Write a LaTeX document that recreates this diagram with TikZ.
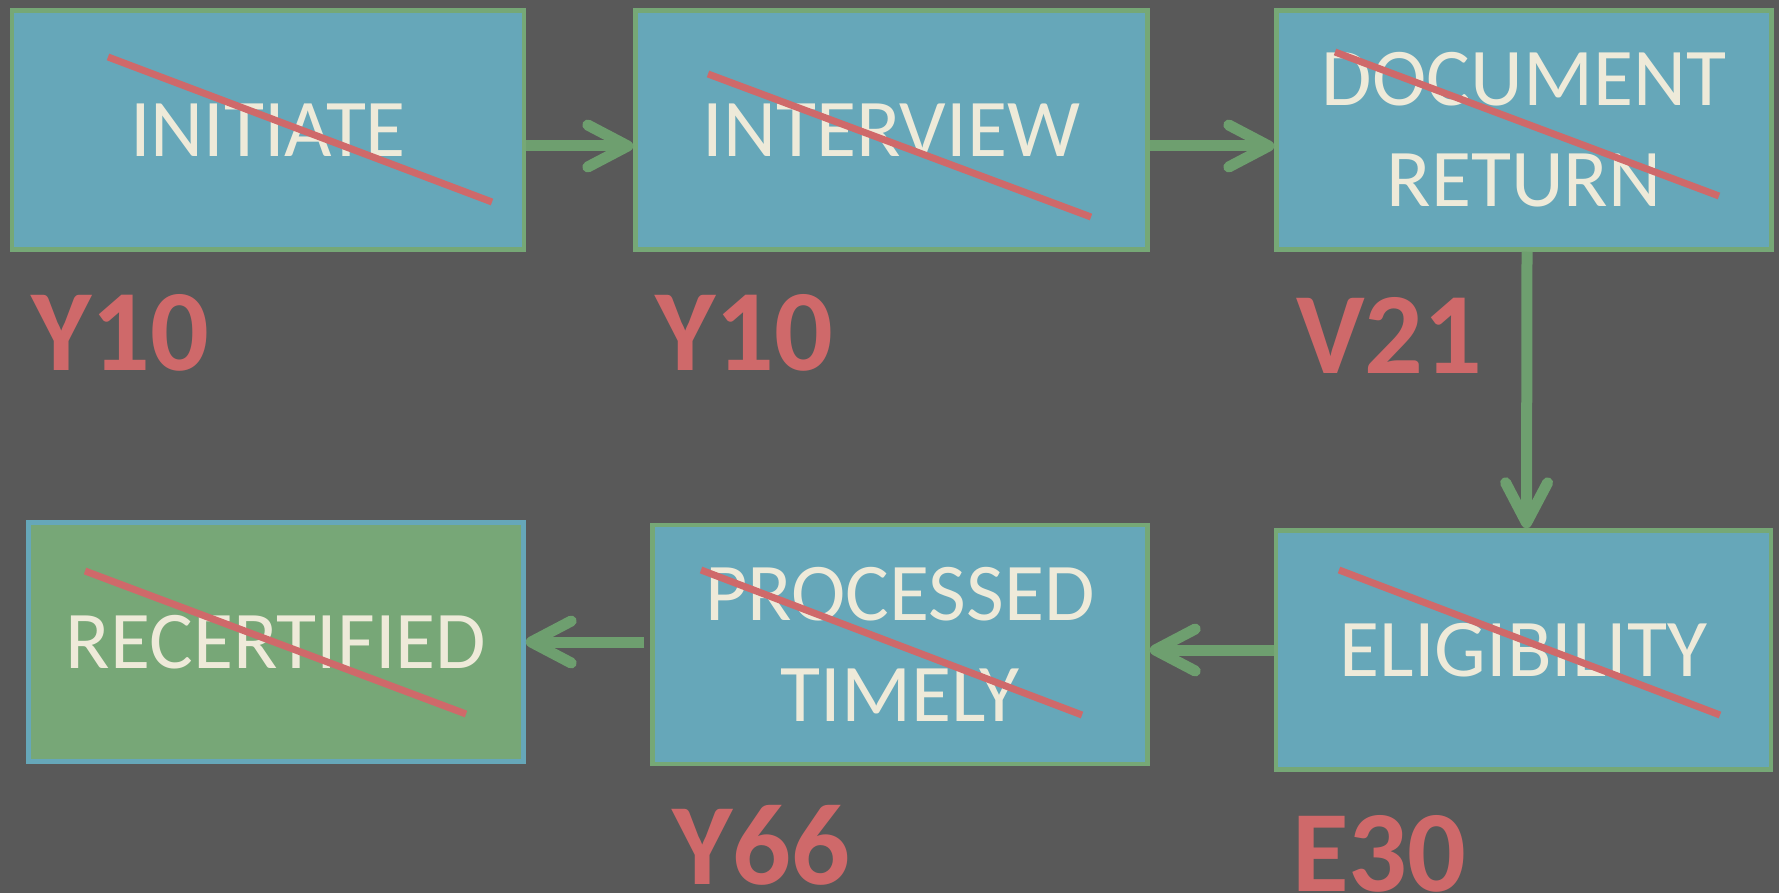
\documentclass[tikz,border=0pt]{standalone}
\usepackage{fontspec}
\setmainfont{Carlito}
\usetikzlibrary{arrows.meta}
\definecolor{bg}{HTML}{595959}
\definecolor{boxfill}{HTML}{66A7B9}
\definecolor{boxline}{HTML}{76A876}
\definecolor{donefill}{HTML}{77A777}
\definecolor{flowgreen}{HTML}{6E9F6F}
\definecolor{codered}{HTML}{CF696A}
\definecolor{cream}{HTML}{EEEAD9}
\tikzset{
  box/.style={rectangle, draw=boxline, fill=boxfill, line width=4.5pt,
    text=cream, font=\fontsize{82}{101}\selectfont, align=center,
    inner sep=0pt, minimum height=239pt},
  donebox/.style={box, draw=boxfill, fill=donefill},
  flow/.style={draw=flowgreen, line width=11pt,
    -{Straight Barb[length=40pt,width=42pt,round]}},
  code/.style={text=codered, font=\bfseries\fontsize{116}{116}\selectfont,
    anchor=base west, inner sep=0pt},
  strike/.style={draw=codered, line width=7pt}
}
\begin{document}
\begin{tikzpicture}[x=1pt,y=-1pt]
  \fill[bg] (0,0) rectangle (1779,893);
  \useasboundingbox (0,0) rectangle (1779,893);

  % process steps
  \node[box, minimum width=512pt] (initiate)  at (268,130)   {INITIATE};
  \node[box, minimum width=512pt] (interview) at (891.5,130) {INTERVIEW};
  \node[box, minimum width=495pt] (docreturn) at (1524,130)  {DOCUMENT\\RETURN};
  \node[box, minimum width=495pt] (elig)      at (1523.5,650) {ELIGIBILITY};
  \node[box, minimum width=495pt] (timely)    at (900,644.5) {PROCESSED\\TIMELY};
  \node[donebox, minimum width=495pt] (recert) at (276,642)  {RECERTIFIED};

  % crossed-out step names
  \draw[strike] (108,57)   -- (492,202);
  \draw[strike] (708,74)   -- (1091,217);
  \draw[strike] (1335,52)  -- (1719,196);
  \draw[strike] (1339,570) -- (1720,715);
  \draw[strike] (701,570)  -- (1082,715);
  \draw[strike] (85,571)   -- (466,714);

  % flow between steps
  \draw[flow] ([yshift=-16pt]initiate.east) -- ([yshift=-16pt]interview.west);
  \draw[flow] ([yshift=-16pt]interview.east) -- ([yshift=-16pt]docreturn.west);
  \draw[flow] ([xshift=3pt]docreturn.south) -- ([xshift=3pt]elig.north);
  \draw[flow] (elig.west) -- (elig.west -| timely.east);
  \draw[flow, shorten <=6pt] (timely.west |- recert.east) -- (recert.east);

  % status codes
  \node[code] (c1) at (31,370)   {Y10};
  \node[code] (c2) at (655,370)  {Y10};
  \node[code] (c3) at (1296,373) {V21};
  \node[code] (c4) at (672,884)  {Y66};
  \node[code] (c5) at (1292,891) {E30};
\end{tikzpicture}
\end{document}
